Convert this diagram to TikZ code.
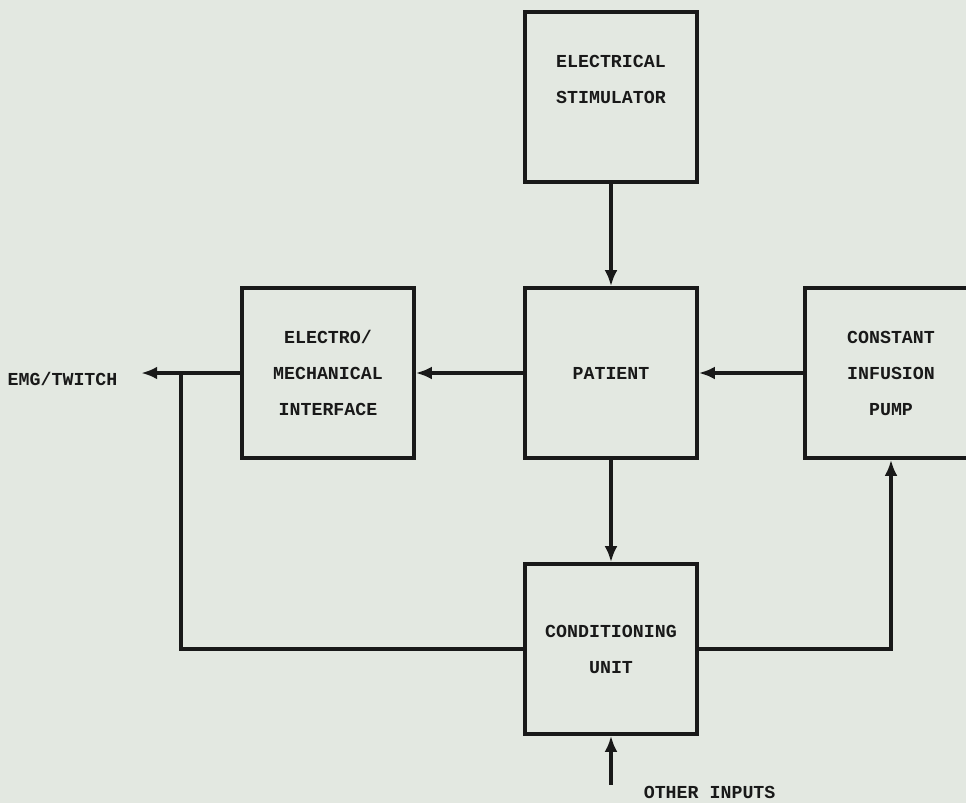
\documentclass[tikz,border=0pt]{standalone}
\usepackage{fontspec}
\setmonofont{Liberation Mono}
\usetikzlibrary{positioning,arrows.meta}
\definecolor{paper}{RGB}{227,232,225}
\definecolor{ink}{RGB}{25,25,25}

\begin{document}
\begin{tikzpicture}[x=0.25mm, y=-0.25mm, node distance={69mm}, line width=0.9mm, color=ink, line join=miter,
    font=\ttfamily\bfseries\fontsize{13}{25.6}\selectfont,
    block/.style = {draw, rectangle, minimum width=43mm, minimum height=42.5mm, align=center, inner sep=0pt},
    flow/.style = {-{Latex[length=4mm, width=3.2mm]}}]
    \useasboundingbox (0,0) rectangle (966,803);
    \fill[paper] (0,0) rectangle (966,803);
    \clip (0,0) rectangle (966,803);
    \node[block] (stim) at (611,97) {ELECTRICAL\\STIMULATOR\\ };
    \node[block] (patient) [below of=stim] {PATIENT};
    \node[block] (cond) [below of=patient] {CONDITIONING\\UNIT};
    \node[block] (iface) [left of=patient, node distance=70.75mm] {ELECTRO/\\MECHANICAL\\INTERFACE};
    \node[block] (pump) [right of=patient, node distance=70mm] {CONSTANT\\INFUSION\\PUMP};
    \coordinate[left=24.75mm of iface] (out);
    \coordinate[left=14.75mm of iface] (tap);
    \coordinate[below=12.25mm of cond] (src);
    \node[inner sep=0pt] (emg) [left=5.5mm of out, yshift=-1.5mm] {EMG/TWITCH};
    \node[inner sep=0pt, anchor=west] (other) at ([xshift=7.75mm, yshift=-14.25mm]cond.south) {OTHER INPUTS};
    \draw[flow] (stim) -- (patient);
    \draw[flow] (patient) -- (iface);
    \draw[flow] (pump) -- (patient);
    \draw[flow] (patient) -- (cond);
    \draw[flow] (iface) -- (out);
    \draw (cond) -| (tap);
    \draw[flow] (cond) -| (pump);
    \draw[flow] (src) -- (cond);
\end{tikzpicture}
\end{document}
